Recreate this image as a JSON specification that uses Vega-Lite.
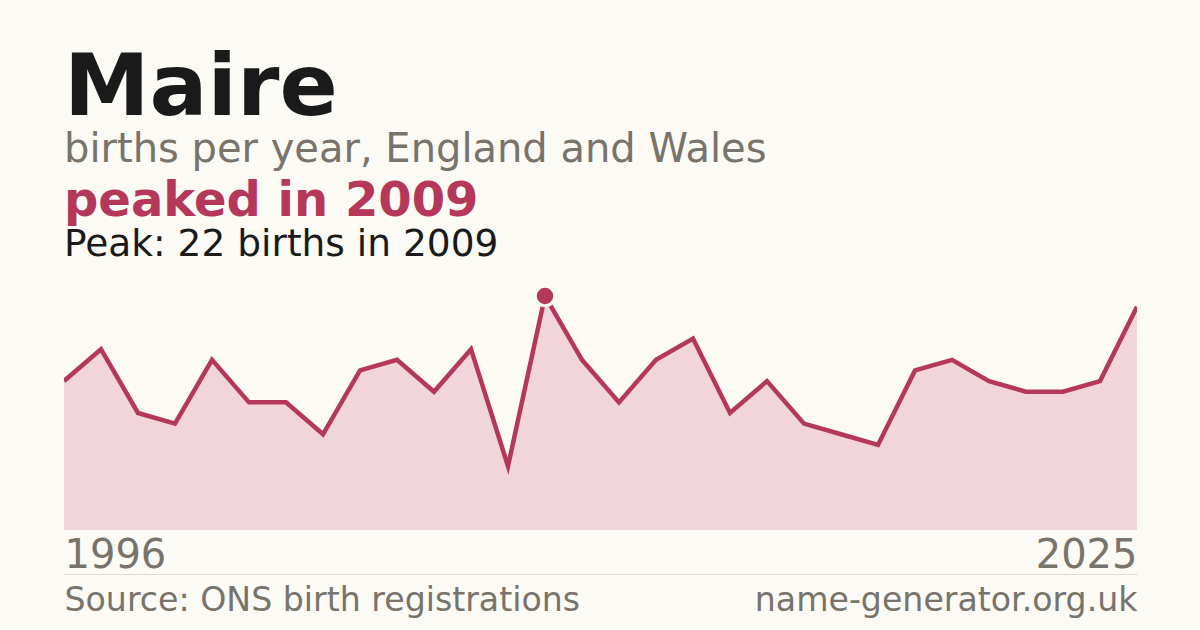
{
  "$schema": "https://vega.github.io/schema/vega-lite/v6.json",
  "background": "#fbfaf5",
  "padding": {"left": 64, "top": 45, "right": 63, "bottom": 12},
  "config": {
    "view": {"stroke": null},
    "font": "DejaVu Sans"
  },
  "title": {
    "text": "Maire",
    "subtitle": "births per year, England and Wales",
    "anchor": "start",
    "frame": "group",
    "font": "DejaVu Sans",
    "fontSize": 86,
    "fontWeight": "bold",
    "color": "#1a1a1a",
    "subtitleFont": "DejaVu Sans",
    "subtitleFontSize": 40,
    "subtitleColor": "#78736b",
    "subtitlePadding": -3,
    "offset": 7
  },
  "data": {
    "values": [
      {"year": 1996, "births": 14},
      {"year": 1997, "births": 17},
      {"year": 1998, "births": 11},
      {"year": 1999, "births": 10},
      {"year": 2000, "births": 16},
      {"year": 2001, "births": 12},
      {"year": 2002, "births": 12},
      {"year": 2003, "births": 9},
      {"year": 2004, "births": 15},
      {"year": 2005, "births": 16},
      {"year": 2006, "births": 13},
      {"year": 2007, "births": 17},
      {"year": 2008, "births": 6},
      {"year": 2009, "births": 22},
      {"year": 2010, "births": 16},
      {"year": 2011, "births": 12},
      {"year": 2012, "births": 16},
      {"year": 2013, "births": 18},
      {"year": 2014, "births": 11},
      {"year": 2015, "births": 14},
      {"year": 2016, "births": 10},
      {"year": 2017, "births": 9},
      {"year": 2018, "births": 8},
      {"year": 2019, "births": 15},
      {"year": 2020, "births": 16},
      {"year": 2021, "births": 14},
      {"year": 2022, "births": 13},
      {"year": 2023, "births": 13},
      {"year": 2024, "births": 14},
      {"year": 2025, "births": 21}
    ]
  },
  "vconcat": [
    {
      "title": {
        "text": "peaked in 2009",
        "subtitle": "Peak: 22 births in 2009",
        "anchor": "start",
        "frame": "group",
        "font": "DejaVu Sans",
        "fontSize": 48,
        "fontWeight": "bold",
        "color": "#b5385a",
        "subtitleFont": "DejaVu Sans",
        "subtitleFontSize": 37.5,
        "subtitleColor": "#1a1a1a",
        "subtitlePadding": 0,
        "offset": 17
      },
      "width": 1073,
      "height": 234,
      "resolve": {"axis": {"x": "independent"}},
      "layer": [
        {
          "mark": {"type": "area", "color": "#f2d5da", "clip": true},
          "encoding": {
            "x": {
              "field": "year", "type": "quantitative",
              "scale": {"domain": [1996, 2025], "nice": false, "zero": false},
              "axis": {
                "orient": "bottom",
                "values": [1996, 2025],
                "format": "d",
                "labelFlush": true,
                "domain": false,
                "ticks": false,
                "grid": false,
                "title": null,
                "labelFont": "DejaVu Sans",
                "labelFontSize": 40,
                "labelColor": "#78736b",
                "labelPadding": 5,
                "labelLimit": 0
              }
            },
            "y": {
              "field": "births", "type": "quantitative",
              "scale": {"domain": [0, 22], "nice": false},
              "axis": null
            }
          }
        },
        {
          "mark": {"type": "line", "color": "#b5385a", "strokeWidth": 4.5, "clip": true},
          "encoding": {
            "x": {
              "field": "year", "type": "quantitative",
              "scale": {"domain": [1996, 2025], "nice": false, "zero": false},
              "axis": {
                "orient": "bottom",
                "offset": 44,
                "values": [1996, 2025],
                "labelExpr": "datum.value == 1996 ? 'Source: ONS birth registrations' : 'name-generator.org.uk'",
                "labelFlush": true,
                "labelOverlap": false,
                "labelLimit": 0,
                "domain": true,
                "domainColor": "#e0dcd3",
                "domainWidth": 1,
                "ticks": false,
                "grid": false,
                "title": null,
                "labelFont": "DejaVu Sans",
                "labelFontSize": 33.2,
                "labelColor": "#78736b",
                "labelPadding": 10
              }
            },
            "y": {
              "field": "births", "type": "quantitative",
              "scale": {"domain": [0, 22], "nice": false},
              "axis": null
            }
          }
        },
        {
          "transform": [{"filter": "datum.year == 2009"}],
          "mark": {"type": "point", "shape": "circle", "filled": true, "color": "#b5385a", "size": 380, "stroke": "#fbfaf5", "strokeWidth": 3, "opacity": 1},
          "encoding": {
            "x": {"field": "year", "type": "quantitative", "axis": null},
            "y": {"field": "births", "type": "quantitative", "axis": null}
          }
        }
      ]
    }
  ]
}
